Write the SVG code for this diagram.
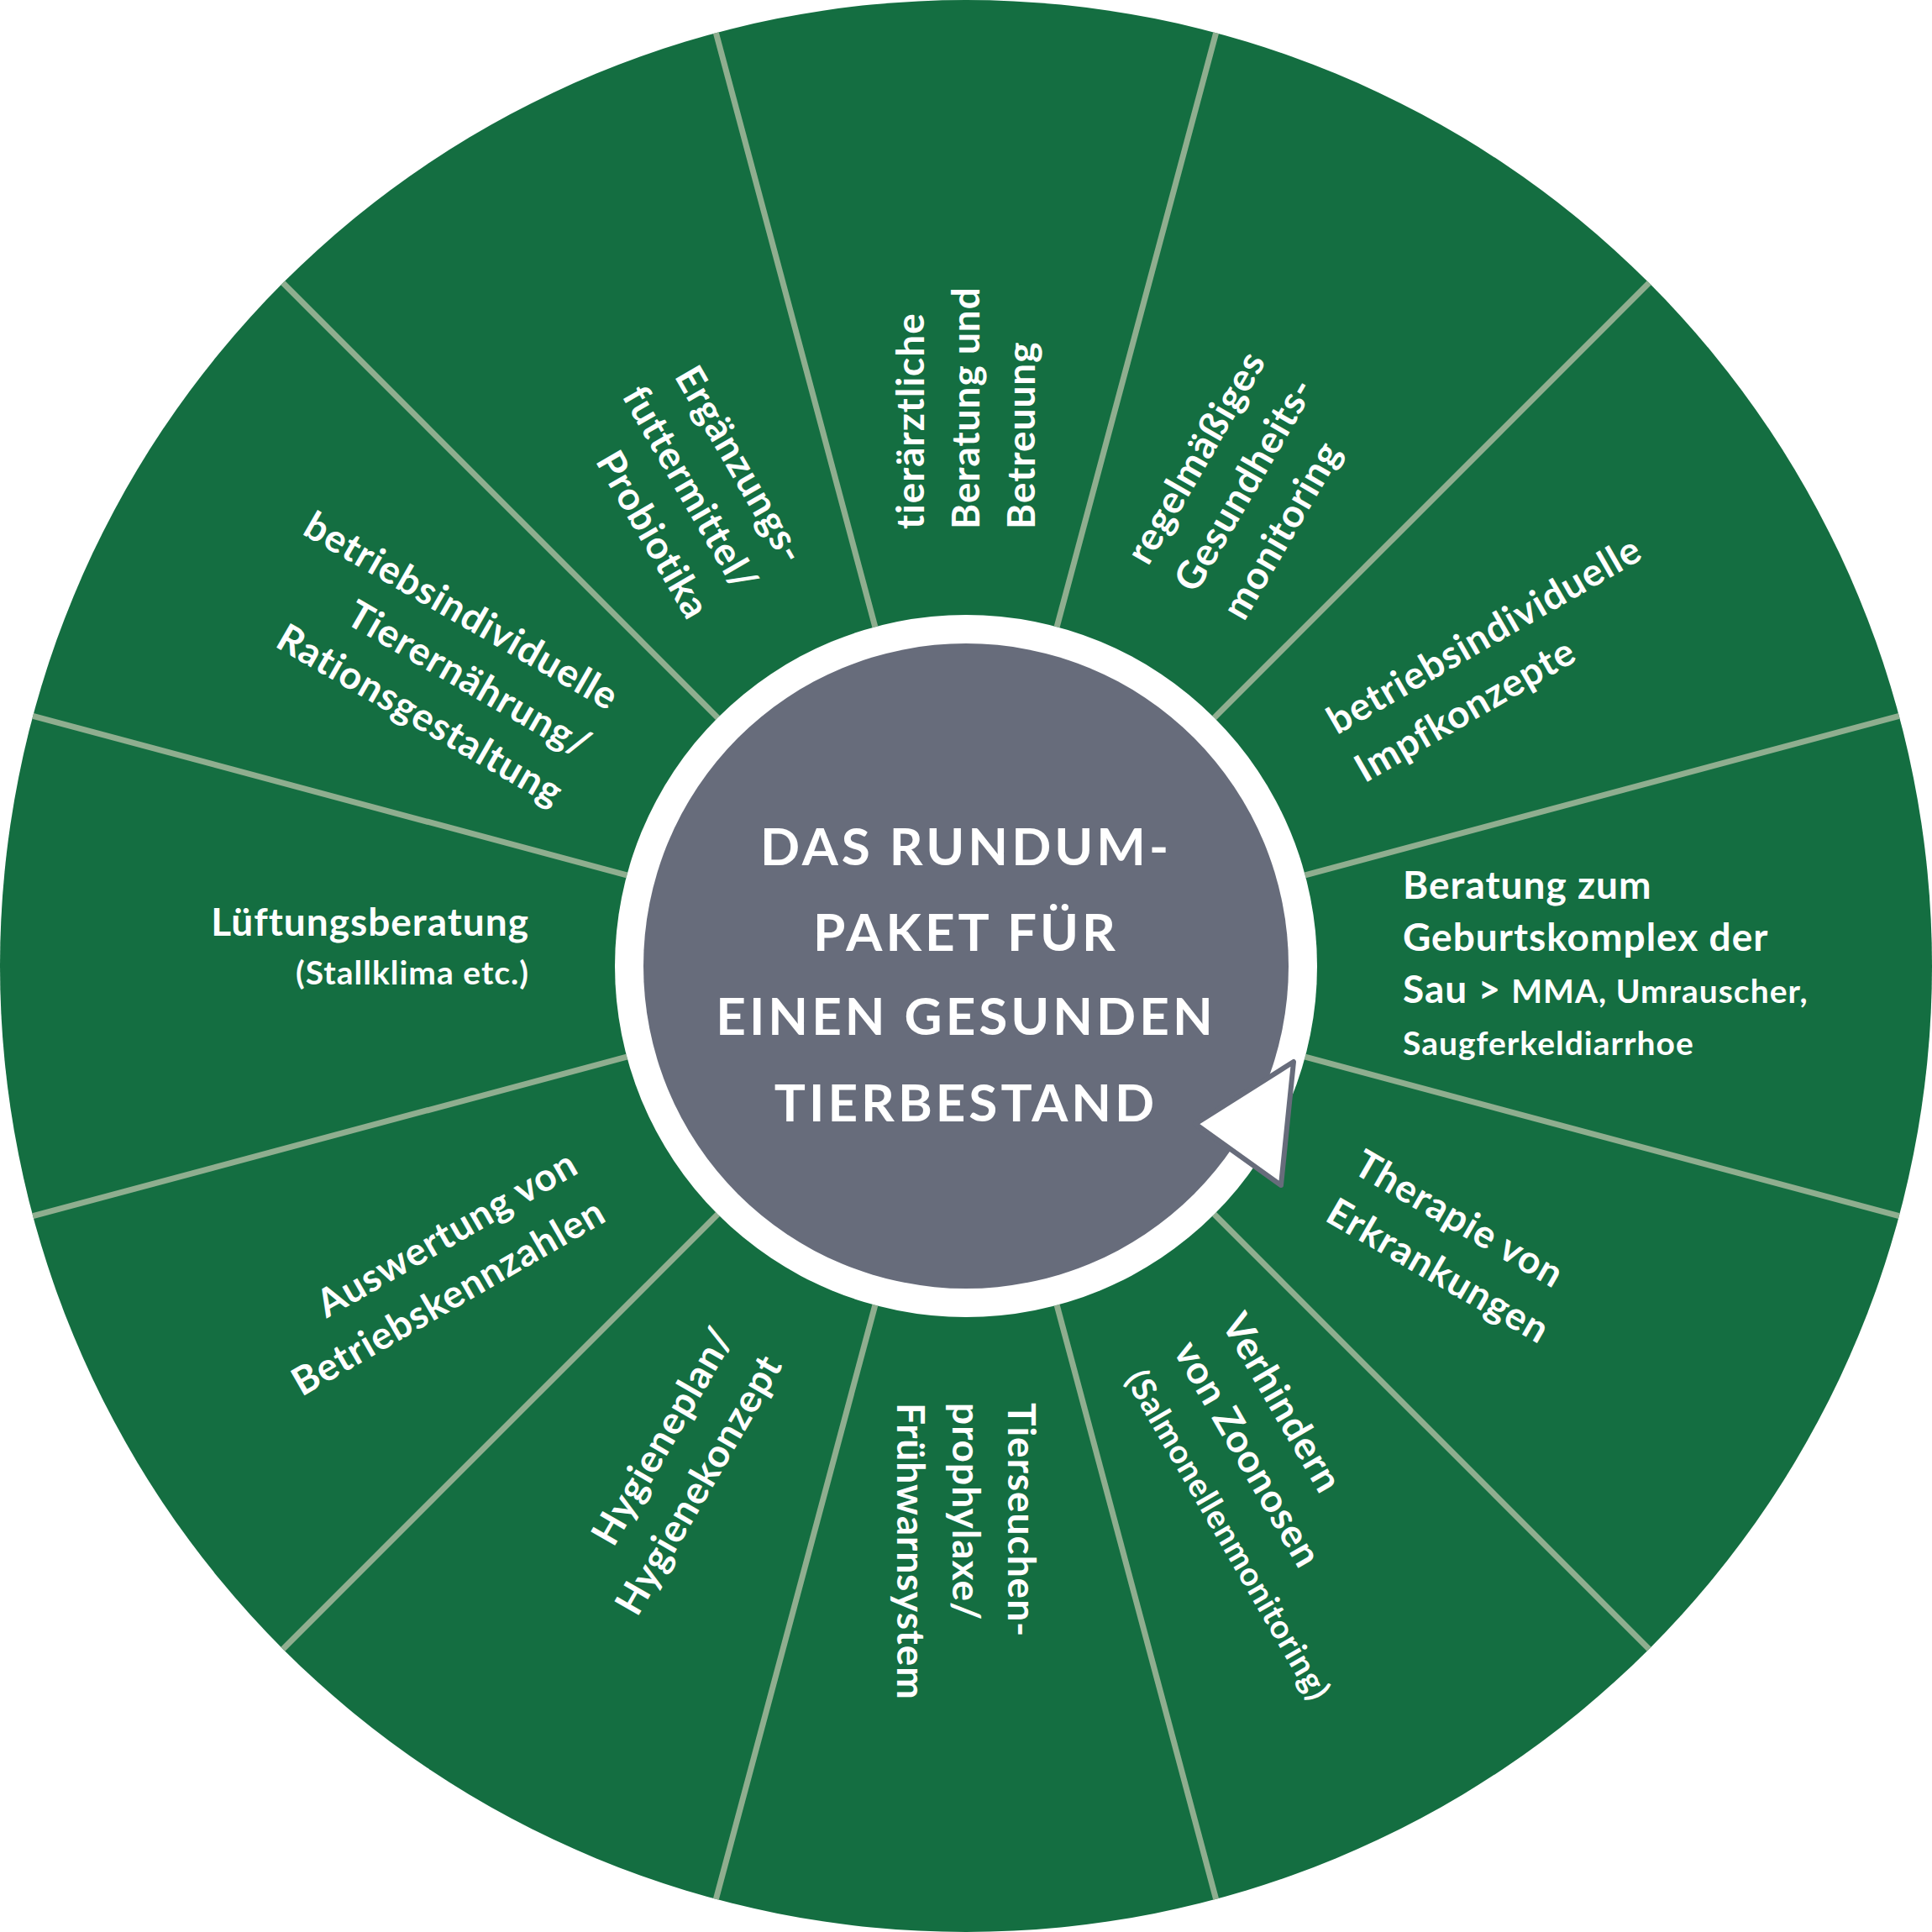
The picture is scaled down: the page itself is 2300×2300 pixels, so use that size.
<svg xmlns="http://www.w3.org/2000/svg" width="2300" height="2300" viewBox="0 0 2300 2300">
<style>
.t{font-family:"Lato","Open Sans",sans-serif;font-weight:700;fill:#fff;font-size:46px;letter-spacing:1px}
.s{font-size:39px}
.c{font-family:"Lato","Open Sans",sans-serif;font-weight:700;fill:#fff;font-size:62px;letter-spacing:4px;text-anchor:middle}
.sep{stroke:#8fae8f;stroke-width:7}
</style>
<rect width="2300" height="2300" fill="#fff"/>
<circle cx="1150" cy="1150" r="1150" fill="#146e41"/>
<g id="connectors">
<g transform="translate(1150,1150)">
<line class="sep" x1="0" y1="-418" x2="0" y2="-1150" transform="rotate(15)"/>
<line class="sep" x1="0" y1="-418" x2="0" y2="-1150" transform="rotate(45)"/>
<line class="sep" x1="0" y1="-418" x2="0" y2="-1150" transform="rotate(75)"/>
<line class="sep" x1="0" y1="-418" x2="0" y2="-1150" transform="rotate(105)"/>
<line class="sep" x1="0" y1="-418" x2="0" y2="-1150" transform="rotate(135)"/>
<line class="sep" x1="0" y1="-418" x2="0" y2="-1150" transform="rotate(165)"/>
<line class="sep" x1="0" y1="-418" x2="0" y2="-1150" transform="rotate(195)"/>
<line class="sep" x1="0" y1="-418" x2="0" y2="-1150" transform="rotate(225)"/>
<line class="sep" x1="0" y1="-418" x2="0" y2="-1150" transform="rotate(255)"/>
<line class="sep" x1="0" y1="-418" x2="0" y2="-1150" transform="rotate(285)"/>
<line class="sep" x1="0" y1="-418" x2="0" y2="-1150" transform="rotate(315)"/>
<line class="sep" x1="0" y1="-418" x2="0" y2="-1150" transform="rotate(345)"/>
</g>
</g>
<g id="center">
<circle cx="1150" cy="1150" r="418" fill="#fff"/>
<circle cx="1150" cy="1150" r="384" fill="#676c7b"/>
<polygon points="1423,1338 1540,1264 1525,1411" fill="#fff" stroke="#676c7b" stroke-width="6" stroke-linejoin="round"/>
<text class="c" x="1150" y="1030">DAS RUNDUM-</text>
<text class="c" x="1150" y="1132">PAKET FÜR</text>
<text class="c" x="1150" y="1232">EINEN GESUNDEN</text>
<text class="c" x="1150" y="1335">TIERBESTAND</text>
</g>
<g id="n0" transform="translate(1150,1150) rotate(-90)"><text class="t" x="520"><tspan x="520" y="-50">tierärztliche</tspan><tspan x="520" y="16">Beratung und</tspan><tspan x="520" y="82">Betreuung</tspan></text></g>
<g id="n30" transform="translate(1150,1150) rotate(-60)"><text class="t"><tspan x="520" y="-50">regelmäßiges</tspan><tspan x="520" y="16">Gesundheits-</tspan><tspan x="520" y="82">monitoring</tspan></text></g>
<g id="n60" transform="translate(1150,1150) rotate(-30)"><text class="t"><tspan x="520" y="-17">betriebsindividuelle</tspan><tspan x="520" y="49">Impfkonzepte</tspan></text></g>
<g id="n90" transform="translate(1150,1150)"><text class="t"><tspan x="520" y="-80">Beratung zum</tspan><tspan x="520" y="-18">Geburtskomplex der</tspan><tspan x="520" y="44" class="t">Sau &gt; <tspan class="s">MMA, Umrauscher,</tspan></tspan><tspan x="520" y="106" class="s">Saugferkeldiarrhoe</tspan></text></g>
<g id="n120" transform="translate(1150,1150) rotate(30)"><text class="t"><tspan x="520" y="-17">Therapie von</tspan><tspan x="520" y="49">Erkrankungen</tspan></text></g>
<g id="n150" transform="translate(1150,1150) rotate(60)"><text class="t"><tspan x="520" y="-50">Verhindern</tspan><tspan x="520" y="16">von Zoonosen</tspan><tspan x="520" y="82" class="s">(Salmonellenmonitoring)</tspan></text></g>
<g id="n180" transform="translate(1150,1150) rotate(90)"><text class="t"><tspan x="520" y="-50">Tierseuchen-</tspan><tspan x="520" y="16">prophylaxe/</tspan><tspan x="520" y="82">Frühwarnsystem</tspan></text></g>
<g id="n210" transform="translate(1150,1150) rotate(-60)"><text class="t" text-anchor="end"><tspan x="-520" y="-17">Hygieneplan/</tspan><tspan x="-520" y="49">Hygienekonzept</tspan></text></g>
<g id="n240" transform="translate(1150,1150) rotate(-30)"><text class="t" text-anchor="end"><tspan x="-520" y="-17">Auswertung von</tspan><tspan x="-520" y="49">Betriebskennzahlen</tspan></text></g>
<g id="n270" transform="translate(1150,1150)"><text class="t" text-anchor="end"><tspan x="-520" y="-36">Lüftungsberatung</tspan><tspan x="-520" y="22" class="s">(Stallklima etc.)</tspan></text></g>
<g id="n300" transform="translate(1150,1150) rotate(30)"><text class="t" text-anchor="end"><tspan x="-520" y="-50">betriebsindividuelle</tspan><tspan x="-520" y="16">Tierernährung/</tspan><tspan x="-520" y="82">Rationsgestaltung</tspan></text></g>
<g id="n330" transform="translate(1150,1150) rotate(60)"><text class="t" text-anchor="end"><tspan x="-520" y="-50">Ergänzungs-</tspan><tspan x="-520" y="16">futtermittel/</tspan><tspan x="-520" y="82">Probiotika</tspan></text></g>
</svg>
